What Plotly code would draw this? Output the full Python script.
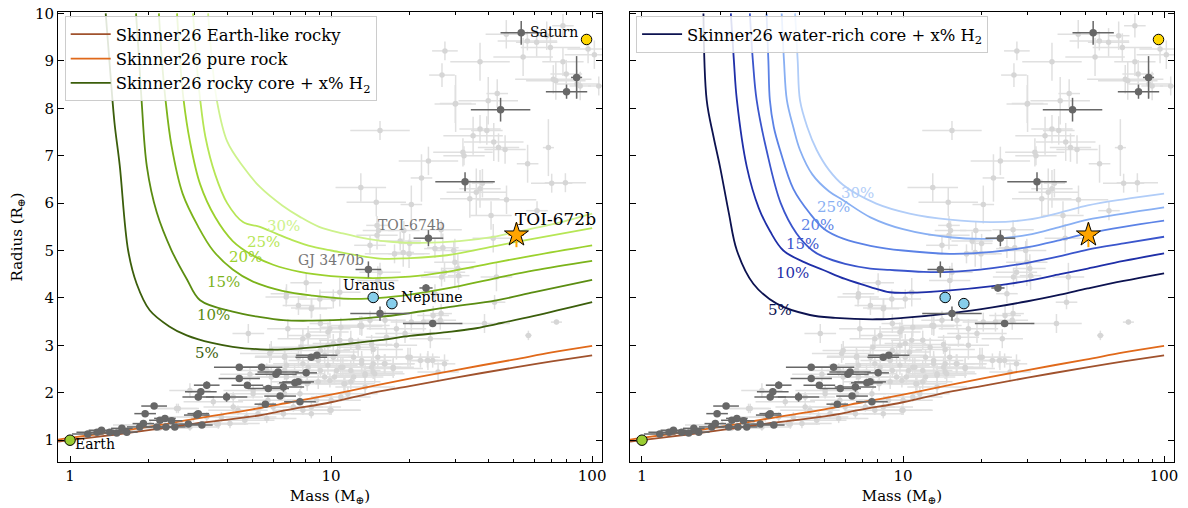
import numpy as np
import plotly.graph_objects as go

# ---------------- DATA ----------------
# Model curves (mass in Earth masses, radius in Earth radii)
earth_like_mass = [0.9, 1, 1.5, 2, 3, 5, 7, 10, 15, 20, 30, 50, 70, 100]
earth_like_radius = [0.97, 1.0, 1.12, 1.21, 1.35, 1.5, 1.65, 1.8, 2.02, 2.14, 2.32, 2.53, 2.66, 2.79]
pure_rock_mass = [0.9, 1, 1.5, 2, 3, 5, 7, 10, 15, 20, 30, 50, 70, 100]
pure_rock_radius = [1.01, 1.05, 1.18, 1.28, 1.45, 1.65, 1.8, 1.96, 2.16, 2.3, 2.48, 2.7, 2.85, 2.99]

h2_labels = ["5%", "10%", "15%", "20%", "25%", "30%"]
rocky_h2_mass = [
    [1.37, 1.42, 1.48, 1.55, 1.67, 1.8, 2.02, 2.4, 2.8, 3.5, 4.2, 5.7, 7.5, 10.2, 15.4, 20, 27.8, 35, 43, 60, 100],
    [1.79, 1.84, 1.88, 1.97, 2.15, 2.45, 2.8, 3.15, 4.2, 5.3, 6.55, 8.5, 10.2, 15.4, 20, 27.8, 43, 60, 100],
    [2.19, 2.25, 2.32, 2.45, 2.7, 3.1, 3.53, 4.2, 5.0, 6.5, 8.5, 12, 15.4, 20, 27.8, 43, 60, 100],
    [2.57, 2.64, 2.72, 2.88, 3.15, 3.6, 4.2, 5.0, 6.0, 7.6, 10, 14, 20, 27.8, 43, 60, 100],
    [2.96, 3.05, 3.15, 3.3, 3.6, 4.0, 4.6, 5.34, 6.2, 7.1, 8.5, 10, 15.4, 20, 27.8, 43, 60, 100],
    [3.38, 3.5, 3.65, 4.0, 4.6, 5.34, 6.5, 7.6, 9, 11.1, 14, 17.3, 22, 31, 43, 51, 70, 100],
]
rocky_h2_radius = [
    [10, 8.9, 7.7, 6.8, 5.0, 4.3, 3.74, 3.4, 3.21, 3.05, 2.97, 2.91, 2.93, 3.0, 3.11, 3.2, 3.28, 3.35, 3.45, 3.62, 3.91],
    [10, 9.0, 8.17, 6.77, 5.8, 5.0, 4.4, 3.95, 3.71, 3.6, 3.53, 3.52, 3.53, 3.6, 3.68, 3.8, 3.95, 4.12, 4.38],
    [10, 9.0, 8.2, 7.2, 6.2, 5.5, 5.0, 4.6, 4.35, 4.15, 4.05, 3.98, 4.0, 4.07, 4.2, 4.42, 4.58, 4.78],
    [10, 9.0, 8.2, 7.3, 6.4, 5.7, 5.2, 4.9, 4.7, 4.55, 4.46, 4.42, 4.45, 4.55, 4.75, 4.9, 5.11],
    [10, 9.0, 8.2, 7.4, 6.6, 6.0, 5.6, 5.5, 5.35, 5.22, 5.08, 5.0, 4.83, 4.84, 4.9, 5.1, 5.25, 5.47],
    [10, 9.0, 8.17, 7.3, 6.77, 6.34, 5.95, 5.71, 5.5, 5.36, 5.24, 5.18, 5.16, 5.2, 5.3, 5.39, 5.55, 5.78],
]
rocky_label_mass = [3.36, 3.53, 3.87, 4.71, 5.53, 6.6]
rocky_label_radius = [2.83, 3.63, 4.33, 4.86, 5.19, 5.52]

water_h2_mass = [
    [1.72, 1.77, 1.88, 1.99, 2.15, 2.31, 2.67, 3.28, 4.4, 5.5, 7.9, 10, 15.4, 22, 30, 40, 51, 70, 100],
    [2.19, 2.25, 2.31, 2.52, 2.8, 3.1, 3.48, 4.2, 4.95, 6, 7.5, 8.9, 10.6, 15.1, 22, 30, 40, 51, 70, 100],
    [2.59, 2.66, 2.75, 3.0, 3.4, 3.91, 4.5, 4.95, 6, 7.5, 8.9, 12, 15.1, 22, 30, 40, 51, 70, 100],
    [3.0, 3.05, 3.09, 3.2, 3.38, 3.8, 4.4, 5.0, 5.9, 7.5, 10, 15.1, 22, 30, 40, 51, 70, 100],
    [3.43, 3.5, 3.59, 3.8, 4.03, 4.5, 5.2, 5.9, 7.5, 10, 15.1, 22, 30, 40, 51, 70, 100],
    [3.86, 3.95, 4.03, 4.3, 4.67, 5.2, 5.9, 7.9, 10.6, 15.1, 22, 30, 40, 51, 70, 100],
]
water_h2_radius = [
    [10, 8.17, 7.4, 6.77, 5.8, 5.0, 4.3, 3.88, 3.64, 3.58, 3.55, 3.58, 3.68, 3.8, 3.93, 4.07, 4.2, 4.36, 4.52],
    [10, 9.0, 8.17, 6.77, 5.9, 5.4, 5.0, 4.75, 4.59, 4.4, 4.23, 4.12, 4.11, 4.16, 4.25, 4.36, 4.5, 4.62, 4.78, 4.94],
    [10, 9.0, 8.17, 7.12, 6.0, 5.36, 5.0, 4.87, 4.72, 4.62, 4.59, 4.55, 4.55, 4.63, 4.74, 4.88, 5.02, 5.15, 5.29],
    [10, 9.0, 8.17, 7.6, 7.12, 6.3, 5.78, 5.45, 5.25, 5.1, 5.0, 4.93, 4.97, 5.07, 5.22, 5.36, 5.5, 5.63],
    [10, 9.0, 8.17, 7.6, 7.12, 6.6, 6.25, 6.06, 5.7, 5.45, 5.28, 5.25, 5.33, 5.5, 5.65, 5.78, 5.91],
    [10, 9.0, 8.17, 7.6, 7.12, 6.7, 6.38, 5.99, 5.78, 5.65, 5.6, 5.65, 5.8, 5.95, 6.08, 6.2],
]
water_label_mass = [3.38, 3.77, 4.12, 4.7, 5.42, 6.69]
water_label_radius = [3.74, 4.53, 5.14, 5.53, 5.91, 6.21]

# Background exoplanet sample (light grey): (mass, radius, fractional mass error, radius error)
bg_giants = [
    (27.3, 9.21, 0.12, 0.2), (26.6, 8.70, 0.12, 0.25), (37.2, 8.98, 0.3, 0.4), (46.9, 9.56, 0.2, 0.3),
    (56.5, 9.42, 0.3, 0.2), (61.3, 9.39, 0.2, 0.3), (67, 9.53, 0.1, 0.3), (69.2, 9.28, 0.3, 0.3),
    (77.3, 9.74, 0.1, 0.25), (77.3, 8.98, 0.2, 0.3), (54.4, 9.08, 0.3, 0.4), (71, 8.61, 0.4, 0.3),
    (72.6, 8.58, 0.3, 0.4), (79.6, 8.72, 0.15, 0.3), (87.5, 8.51, 0.2, 0.3), (90, 8.47, 0.1, 0.3),
    (96.5, 9.25, 0.2, 0.3), (102, 9.13, 0.3, 0.3), (106, 8.47, 0.1, 0.2), (40, 8.16, 0.3, 0.5),
    (43.3, 8.31, 0.1, 0.3), (30, 8.1, 0.15, 0.6), (29.9, 8.09, 0.2, 0.4), (15.4, 7.53, 0.3, 0.2),
    (35, 7.42, 0.3, 0.4), (37.2, 7.56, 0.2, 0.3), (39.5, 7.53, 0.15, 0.3), (42, 7.29, 0.3, 0.4),
    (43.8, 7.17, 0.2, 0.3), (46.4, 7.13, 0.2, 0.3), (32, 7.07, 0.3, 0.3), (32.3, 7.0, 0.2, 0.2),
    (23.6, 6.89, 0.3, 0.3), (22.2, 6.53, 0.1, 0.5), (56.6, 6.83, 0.1, 0.4), (68, 7.17, 0.05, 0.6),
    (70, 6.42, 0.2, 0.2), (79, 6.43, 0.2, 0.2),
]
bg_neptunes = [
    (20.3, 5.97, 0.1, 0.4), (34, 6.09, 0.3, 0.4), (36, 6.23, 0.3, 0.5), (37.2, 6.3, 0.2, 0.4),
    (38, 6.42, 0.1, 0.3), (41, 5.74, 0.2, 0.3), (47, 6.07, 0.3, 0.3), (61.5, 5.84, 0.1, 0.2),
    (41.8, 5.26, 0.2, 0.3), (20, 5.15, 0.1, 0.2), (18.4, 5.2, 0.2, 0.2), (18.9, 4.96, 0.1, 0.3),
    (13.0, 6.33, 0.25, 0.3), (14.9, 6.02, 0.3, 0.3), (15, 5.32, 0.2, 0.3), (14.1, 5.11, 0.15, 0.2),
    (17.5, 4.93, 0.3, 0.2), (19.9, 4.93, 0.2, 0.3), (25, 5.04, 0.1, 0.2), (26.8, 5.06, 0.15, 0.3),
    (29.5, 5.0, 0.2, 0.2), (15, 5.53, 0.1, 0.2), (15.2, 5.42, 0.15, 0.2), (26.4, 5.44, 0.2, 0.2),
    (19, 5.42, 0.15, 0.2), (29.8, 4.75, 0.2, 0.5), (30.6, 4.62, 0.15, 0.3), (30.8, 4.47, 0.1, 0.3),
    (27.2, 4.54, 0.2, 0.2), (26.5, 4.44, 0.2, 0.2), (43, 4.44, 0.15, 0.3), (42.3, 3.91, 0.1, 0.15),
    (38.7, 3.46, 0.25, 0.2), (57, 3.21, 0.03, 0.1), (73, 3.49, 0.05, 0.05), (26.2, 3.53, 0.15, 0.2),
    (22.6, 3.49, 0.2, 0.2), (20.3, 3.49, 0.2, 0.2), (24.6, 3.63, 0.15, 0.2), (26.4, 3.67, 0.1, 0.2),
    (25, 4.09, 0.1, 0.2), (15.1, 4.37, 0.2, 0.3), (16.1, 3.53, 0.2, 0.2), (15.4, 4.54, 0.2, 0.2),
    (8.03, 4.32, 0.15, 0.2), (10.8, 4.12, 0.2, 0.3), (6.75, 4.09, 0.15, 0.2), (8.43, 3.79, 0.2, 0.2),
    (6.73, 4.02, 0.2, 0.2), (7.5, 3.84, 0.15, 0.2), (8.4, 3.77, 0.15, 0.2), (9.06, 3.98, 0.2, 0.2),
    (10.2, 3.98, 0.15, 0.2), (14.1, 3.53, 0.2, 0.2), (9.1, 3.46, 0.1, 0.2),
]
bg_subneptunes = [
    (19.2, 3.25, 0.3, 0.2), (24, 3.14, 0.2, 0.2), (17.8, 3.0, 0.2, 0.3), (20.1, 2.75, 0.3, 0.2),
    (22, 2.68, 0.1, 0.15), (23.4, 2.68, 0.1, 0.15), (24.5, 2.68, 0.1, 0.15), (17.3, 2.54, 0.2, 0.2),
    (16, 2.61, 0.3, 0.2), (25.7, 2.44, 0.2, 0.2), (17.8, 3.35, 0.3, 0.2), (12.9, 3.42, 0.3, 0.2),
    (9.9, 3.35, 0.2, 0.2), (4.82, 3.25, 0.15, 0.2), (7.8, 3.14, 0.25, 0.2), (10.8, 3.11, 0.2, 0.2),
    (14.5, 2.91, 0.3, 0.2), (16.3, 3.17, 0.2, 0.2), (6.65, 2.77, 0.3, 0.15), (9.1, 2.89, 0.3, 0.2),
    (10.2, 2.75, 0.3, 0.15), (12.2, 2.75, 0.3, 0.15), (14.5, 2.61, 0.3, 0.2), (7.8, 2.61, 0.3, 0.2),
    (9.1, 2.47, 0.3, 0.15), (10.5, 2.47, 0.3, 0.15), (12.2, 2.33, 0.3, 0.15), (14.5, 2.44, 0.3, 0.15),
    (6.75, 2.33, 0.3, 0.15), (4.89, 2.39, 0.3, 0.15), (5.67, 2.47, 0.3, 0.15), (6.75, 2.58, 0.3, 0.15),
    (6.83, 3.35, 0.2, 0.2), (8.17, 3.21, 0.2, 0.2), (9.73, 3.28, 0.2, 0.2), (10.9, 3.38, 0.2, 0.2),
    (13.1, 3.40, 0.2, 0.2), (14.3, 3.02, 0.2, 0.2), (12.7, 2.96, 0.2, 0.2), (15.1, 2.75, 0.3, 0.2),
    (10.2, 3.04, 0.2, 0.2), (10.6, 2.86, 0.2, 0.2), (9.45, 2.79, 0.3, 0.2), (8.93, 2.68, 0.3, 0.2),
    (9.73, 2.58, 0.3, 0.2), (10.9, 2.54, 0.3, 0.2), (11.9, 2.47, 0.3, 0.2), (13.1, 2.61, 0.3, 0.2),
    (13.5, 2.40, 0.3, 0.2), (14.7, 2.40, 0.3, 0.2), (16.1, 2.61, 0.3, 0.2), (7.67, 2.96, 0.3, 0.2),
    (5.82, 2.83, 0.3, 0.2), (6.63, 2.75, 0.3, 0.2), (7.5, 2.75, 0.3, 0.2), (8.17, 2.54, 0.3, 0.2),
    (7.25, 2.40, 0.3, 0.2), (6.63, 2.47, 0.3, 0.2), (5.9, 2.33, 0.3, 0.2), (19.7, 2.75, 0.3, 0.2),
    (23.5, 2.68, 0.2, 0.2), (27.2, 2.61, 0.1, 0.2), (13.1, 3.42, 0.2, 0.2), (9.73, 3.0, 0.3, 0.2),
    (11.9, 3.11, 0.2, 0.2), (13.1, 2.68, 0.3, 0.2), (11.1, 2.54, 0.3, 0.2), (14.3, 2.54, 0.3, 0.2),
    (17.3, 2.51, 0.3, 0.2), (9.45, 2.33, 0.3, 0.15), (13.5, 2.37, 0.3, 0.15), (5.9, 2.89, 0.2, 0.2),
]
bg_superearths = [
    (9.9, 2.26, 0.25, 0.15), (11.2, 2.19, 0.25, 0.15), (8.1, 2.19, 0.3, 0.15), (7.6, 1.98, 0.3, 0.1),
    (8.8, 1.84, 0.3, 0.1), (9.9, 1.63, 0.3, 0.1), (6.57, 1.56, 0.3, 0.1), (7.17, 1.70, 0.3, 0.1),
    (5.67, 1.46, 0.3, 0.1), (4.75, 1.49, 0.3, 0.1), (4.1, 1.35, 0.3, 0.1), (3.7, 1.34, 0.3, 0.1),
    (2.88, 2.05, 0.2, 0.15), (2.56, 1.67, 0.2, 0.1), (2.97, 1.49, 0.3, 0.1), (3.54, 1.81, 0.3, 0.1),
    (4.22, 1.91, 0.3, 0.1), (5.03, 2.05, 0.3, 0.1), (2.88, 1.28, 0.3, 0.08), (3.34, 1.49, 0.3, 0.1),
    (3.64, 1.35, 0.3, 0.08), (5.03, 1.98, 0.3, 0.1), (2.03, 1.32, 0.3, 0.08), (2.68, 1.32, 0.3, 0.08),
    (4.22, 1.70, 0.3, 0.1), (5.35, 1.70, 0.3, 0.1), (6.0, 1.70, 0.3, 0.1), (7.8, 1.63, 0.3, 0.1),
    (8.4, 1.56, 0.2, 0.1), (7.67, 2.23, 0.3, 0.15), (8.93, 2.23, 0.3, 0.15), (10.3, 2.33, 0.3, 0.15),
    (11.9, 2.23, 0.3, 0.15), (13.5, 2.12, 0.3, 0.15), (11.6, 1.98, 0.3, 0.15), (10, 1.84, 0.3, 0.1),
    (8.4, 1.70, 0.3, 0.1), (6.63, 1.98, 0.3, 0.1), (5.73, 1.84, 0.3, 0.1), (5.25, 1.56, 0.3, 0.1),
    (4.4, 1.63, 0.3, 0.1), (10, 1.63, 0.3, 0.1), (3.8, 1.49, 0.3, 0.1), (4.67, 1.42, 0.3, 0.1),
    (11.3, 2.19, 0.3, 0.15), (10.9, 1.91, 0.3, 0.1), (2.6, 1.67, 0.2, 0.1), (1.3, 1.15, 0.2, 0.05),
    (1.6, 1.2, 0.2, 0.05), (2.2, 1.25, 0.3, 0.06), (1.9, 1.32, 0.3, 0.06),
]

# Highlighted planets (dark grey): (mass, radius, fractional mass error, radius error)
highlighted = [
    (1.17, 1.13, 0.15, 0.04), (1.27, 1.17, 0.2, 0.04), (1.32, 1.21, 0.12, 0.04), (1.42, 1.17, 0.1, 0.04),
    (1.51, 1.15, 0.12, 0.04), (1.58, 1.25, 0.1, 0.05), (1.65, 1.17, 0.1, 0.04), (1.85, 1.28, 0.12, 0.05),
    (1.91, 1.35, 0.1, 0.05), (1.94, 1.56, 0.1, 0.06), (2.10, 1.72, 0.12, 0.05), (2.15, 1.28, 0.1, 0.04),
    (2.21, 1.42, 0.1, 0.05), (2.31, 1.46, 0.1, 0.05), (2.33, 1.28, 0.1, 0.04), (2.45, 1.41, 0.1, 0.06),
    (2.52, 1.28, 0.1, 0.05), (2.84, 1.34, 0.12, 0.05), (3.06, 1.53, 0.12, 0.05), (3.1, 1.56, 0.1, 0.05),
    (3.2, 1.32, 0.1, 0.04), (3.1, 1.91, 0.15, 0.07), (3.17, 2.02, 0.15, 0.07), (3.34, 2.16, 0.12, 0.08),
    (3.98, 1.91, 0.2, 0.1), (4.45, 2.54, 0.25, 0.05), (4.45, 2.30, 0.2, 0.05), (4.78, 2.16, 0.15, 0.05),
    (5.42, 2.54, 0.2, 0.07), (5.6, 1.76, 0.1, 0.05), (5.75, 2.09, 0.2, 0.06), (6.15, 2.39, 0.2, 0.06),
    (6.27, 2.44, 0.2, 0.06), (6.38, 1.93, 0.15, 0.06), (6.57, 2.12, 0.2, 0.1), (7.27, 2.21, 0.15, 0.05),
    (7.48, 2.23, 0.15, 0.05), (7.6, 1.81, 0.15, 0.05), (8.03, 2.42, 0.1, 0.07), (8.4, 2.75, 0.15, 0.05),
    (8.82, 2.79, 0.2, 0.05), (13.9, 4.6, 0.12, 0.17), (15.4, 3.67, 0.3, 0.15), (23.1, 4.21, 0.06, 0.08),
    (24.5, 3.46, 0.3, 0.07), (23.6, 5.26, 0.14, 0.17), (32.6, 6.45, 0.3, 0.2), (44.6, 7.97, 0.3, 0.25),
    (53.5, 9.59, 0.2, 0.25), (79.8, 8.35, 0.2, 0.15), (87.2, 8.65, 0.05, 0.45),
]

# Solar system planets
ss_names = ["Earth", "Uranus", "Neptune", "Saturn"]
ss_mass = [1.0, 14.5, 17.1, 95.2]
ss_radius = [1.0, 4.01, 3.88, 9.45]
ss_colors = ["#9acd32", "#87ceeb", "#87ceeb", "#ffd700"]

# TOI-672b
toi672_mass = [51.3]
toi672_radius = [5.33]
toi672_mass_err = [3.5]
toi672_radius_err = [0.26]

# ---------------- STYLE ----------------
FONT = "DejaVu Serif"
rocky_colors = ["#3b5e0b", "#5a8c11", "#7bb31a", "#9bd12d", "#b6e655", "#cdf28c"]
water_colors = ["#0c1250", "#1f2fa8", "#3a55cc", "#5b82e6", "#88aff3", "#b1cdf8"]
EARTH_LIKE = "#a0522d"
PURE_ROCK = "#e0691a"
LIGHT = "#d6d6d6"
LIGHT_BAR = "#e0e0e0"
DARK = "#676767"

fig = go.Figure()
panels = [("x", "y"), ("x2", "y2")]


def add_points(rows, color, barcolor, size, lw, xa, ya):
    arr = np.array(rows, dtype=float)
    m, r, f, dr = arr[:, 0], arr[:, 1], arr[:, 2], arr[:, 3]
    fig.add_trace(go.Scatter(
        x=m, y=r, mode="markers", xaxis=xa, yaxis=ya,
        marker=dict(color=color, size=size, line=dict(width=0)),
        error_x=dict(type="data", array=m * f, arrayminus=m * f / (1 + f),
                     color=barcolor, thickness=lw, width=0),
        error_y=dict(type="data", array=dr, color=barcolor, thickness=lw, width=0),
        showlegend=False, hoverinfo="skip"))


# background sample
for xa, ya in panels:
    add_points(bg_giants + bg_neptunes + bg_subneptunes + bg_superearths, LIGHT, LIGHT_BAR, 5.5, 1.5, xa, ya)

# rocky composition lines (both panels)
for i, (xa, ya) in enumerate(panels):
    leg = "legend" if i == 0 else "legend2"
    fig.add_trace(go.Scatter(x=earth_like_mass, y=earth_like_radius, mode="lines", xaxis=xa, yaxis=ya,
                             line=dict(color=EARTH_LIKE, width=1.8, shape="spline"),
                             name="Skinner26 Earth-like rocky", showlegend=(i == 0), legend=leg,
                             hoverinfo="skip"))
    fig.add_trace(go.Scatter(x=pure_rock_mass, y=pure_rock_radius, mode="lines", xaxis=xa, yaxis=ya,
                             line=dict(color=PURE_ROCK, width=1.8, shape="spline"),
                             name="Skinner26 pure rock", showlegend=(i == 0), legend=leg,
                             hoverinfo="skip"))

# rocky core + H2 (left)
for k in range(len(h2_labels)):
    fig.add_trace(go.Scatter(x=rocky_h2_mass[k], y=rocky_h2_radius[k], mode="lines", xaxis="x", yaxis="y",
                             line=dict(color=rocky_colors[k], width=1.8, shape="spline", smoothing=1.0),
                             name="Skinner26 rocky core + x% H<sub>2</sub>", showlegend=(k == 0),
                             legend="legend", hoverinfo="skip"))
    fig.add_annotation(x=np.log10(rocky_label_mass[k]), y=rocky_label_radius[k], xref="x", yref="y",
                       text=h2_labels[k], showarrow=False,
                       font=dict(family=FONT, size=15, color=rocky_colors[k]))

# water-rich core + H2 (right)
for k in range(len(h2_labels)):
    fig.add_trace(go.Scatter(x=water_h2_mass[k], y=water_h2_radius[k], mode="lines", xaxis="x2", yaxis="y2",
                             line=dict(color=water_colors[k], width=1.8, shape="spline", smoothing=1.0),
                             name="Skinner26 water-rich core + x% H<sub>2</sub>", showlegend=(k == 0),
                             legend="legend2", hoverinfo="skip"))
    fig.add_annotation(x=np.log10(water_label_mass[k]), y=water_label_radius[k], xref="x2", yref="y2",
                       text=h2_labels[k], showarrow=False,
                       font=dict(family=FONT, size=15, color=water_colors[k]))

# highlighted planets
for xa, ya in panels:
    add_points(highlighted, DARK, DARK, 7.5, 1.5, xa, ya)

# solar system + TOI-672b
for xa, ya in panels:
    fig.add_trace(go.Scatter(x=ss_mass, y=ss_radius, mode="markers", xaxis=xa, yaxis=ya,
                             marker=dict(color=ss_colors, size=10.5, line=dict(color="black", width=1)),
                             showlegend=False, hoverinfo="skip"))
    fig.add_trace(go.Scatter(x=toi672_mass, y=toi672_radius, mode="markers", xaxis=xa, yaxis=ya,
                             marker=dict(symbol="star", color="#ffa500", size=18,
                                         line=dict(color="black", width=1)),
                             error_x=dict(type="data", array=toi672_mass_err, color="#ffa500", thickness=2, width=0),
                             error_y=dict(type="data", array=toi672_radius_err, color="#ffa500", thickness=2, width=0),
                             showlegend=False, hoverinfo="skip"))

# text labels (left panel)
labels = [
    ("Earth", 1.03, 0.93, "left", "black", 14),
    ("Saturn", 89.5, 9.6, "right", "black", 14),
    ("Uranus", 17.9, 4.28, "right", "black", 14),
    ("Neptune", 18.2, 4.02, "left", "black", 14),
    ("TOI-674b", 20.4, 5.53, "center", "#777777", 14),
    ("GJ 3470b", 9.98, 4.79, "center", "#777777", 14),
    ("TOI-672b", 72.2, 5.67, "center", "black", 17),
]
for txt, mx, ry, anc, col, sz in labels:
    fig.add_annotation(x=np.log10(mx), y=ry, xref="x", yref="y", text=txt, showarrow=False,
                       xanchor=anc, yanchor="middle", font=dict(family=FONT, size=sz, color=col))

# ---------------- AXES ----------------
minor_vals = [0.9] + [v for d in (1, 10) for v in [d * j for j in range(2, 10)]]
xcommon = dict(type="log", range=[-0.046, 2.038], tickvals=[1, 10, 100], ticktext=["1", "10", "100"],
               ticks="inside", ticklen=6, tickwidth=1, tickcolor="black", automargin=False,
               minor=dict(tickvals=minor_vals, ticks="inside", ticklen=3, tickwidth=1, tickcolor="black"),
               showline=True, linecolor="black", linewidth=1, mirror="allticks", showgrid=False, zeroline=False,
               tickfont=dict(family=FONT, size=15, color="black"),
               title=dict(text="Mass (M<sub>⊕</sub>)", font=dict(family=FONT, size=15, color="black"), standoff=6))
ycommon = dict(range=[0.54, 10.03], tickvals=list(range(1, 11)), ticks="inside", ticklen=6, tickwidth=1,
               tickcolor="black", showline=True, linecolor="black", linewidth=1, mirror="allticks",
               showgrid=False, zeroline=False, automargin=False, ticklabeloverflow="allow",
               tickfont=dict(family=FONT, size=15, color="black"))

legend_common = dict(bgcolor="rgba(255,255,255,0.85)", bordercolor="#cccccc", borderwidth=1,
                     font=dict(family=FONT, size=16.4, color="black"), xanchor="left", yanchor="top",
                     tracegroupgap=0, itemwidth=40)

# page body has an 8px margin, so the figure is drawn 8px in from the window corner
fig.update_layout(
    width=1180, height=500, margin=dict(l=50, r=14, t=4, b=46),
    paper_bgcolor="white", plot_bgcolor="white",
    xaxis=dict(domain=[0, 0.4875], anchor="y", **xcommon),
    xaxis2=dict(domain=[0.5125, 1], anchor="y2", **xcommon),
    yaxis=dict(domain=[0, 1], anchor="x",
               title=dict(text="Radius (R<sub>⊕</sub>)", font=dict(family=FONT, size=15, color="black"),
                          standoff=18), **ycommon),
    yaxis2=dict(domain=[0, 1], anchor="x2", showticklabels=False, **ycommon),
    legend=dict(x=0.006, y=0.991, **legend_common),
    legend2=dict(x=0.518, y=0.991, **legend_common),
    showlegend=True,
)

fig.write_html("out.html")
